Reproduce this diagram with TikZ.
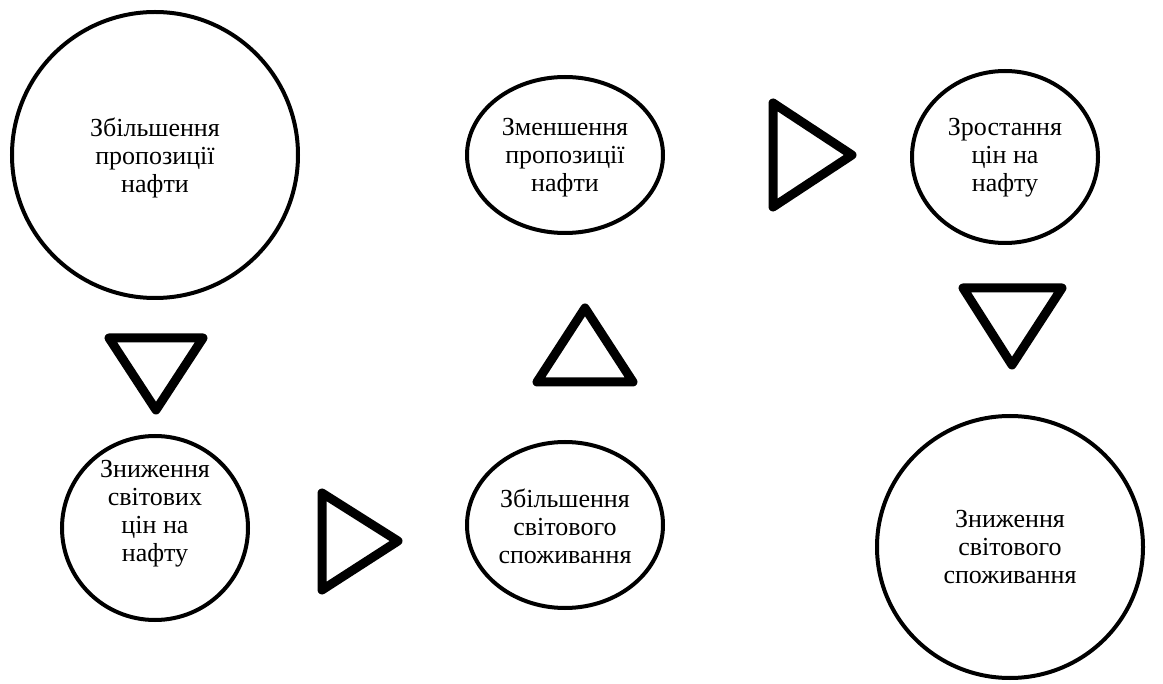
\documentclass[tikz,border=0pt]{standalone}
\usepackage{fontspec}
\setmainfont{Liberation Serif}
\usetikzlibrary{shapes.geometric}
\begin{document}
\begin{tikzpicture}[x=1pt,y=-1pt,
  bubble/.style={draw=black,line width=4pt,ellipse,inner sep=0pt},
  label/.style={align=center,inner sep=0pt,font=\fontsize{26}{28}\selectfont},
  tri/.style={draw=black,line width=9pt,line join=round}]
\useasboundingbox[fill=white] (0,0) rectangle (1163,684);
\node[bubble,minimum width=286pt,minimum height=286pt] (a) at (155,155) {};
\node[label] (at) at (155,158) {Збільшення\\пропозиції\\нафти};
\node[bubble,minimum width=196pt,minimum height=156pt] (b) at (565,155) {};
\node[label] (bt) at (565,158) {Зменшення\\пропозиції\\нафти};
\node[bubble,minimum width=186pt,minimum height=172pt] (c) at (1005,157) {};
\node[label] (ct) at (1005,158) {Зростання\\цін на\\нафту};
\node[bubble,minimum width=186pt,minimum height=184pt] (d) at (155,528) {};
\node[label] (dt) at (155,514) {Зниження\\світових\\цін на\\нафту};
\node[bubble,minimum width=196pt,minimum height=166pt] (e) at (565,525) {};
\node[label] (et) at (565,526) {Збільшення\\світового\\споживання};
\node[bubble,minimum width=266pt,minimum height=262pt] (f) at (1010,547) {};
\node[label] (ft) at (1010,547) {Зниження\\світового\\споживання};
% triangles
\draw[tri] (109,338) -- (203,338) -- (156,410) -- cycle;
\draw[tri] (322,493) -- (398,541) -- (322,590) -- cycle;
\draw[tri] (585,308) -- (633,382) -- (537,382) -- cycle;
\draw[tri] (773,103) -- (852,155) -- (773,207) -- cycle;
\draw[tri] (963,288) -- (1062,288) -- (1012,365) -- cycle;
\end{tikzpicture}
\end{document}
